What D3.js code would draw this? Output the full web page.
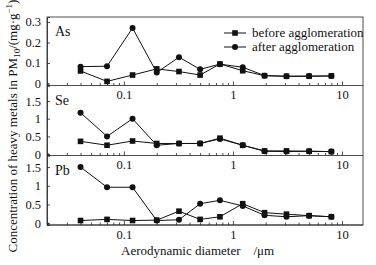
<!DOCTYPE html>
<html>
<head>
<meta charset="utf-8">
<script src="https://cdn.jsdelivr.net/npm/d3@7"></script>
<style>
  body { margin: 0; background: #fff; }
</style>
</head>
<body>
<div id="chart"></div>
<script>
// stage diameters (um)
var diameters = [0.04, 0.07, 0.12, 0.2, 0.32, 0.5, 0.76, 1.23, 1.95, 3.1, 5.0, 8.0];

var asBefore = [0.061, 0.01, 0.041, 0.071, 0.058, 0.041, 0.095, 0.062, 0.038, 0.035, 0.035, 0.037];
var asAfter = [0.082, 0.084, 0.27, 0.053, 0.128, 0.069, 0.094, 0.079, 0.038, 0.035, 0.036, 0.036];
var seBefore = [0.36, 0.25, 0.37, 0.3, 0.3, 0.3, 0.45, 0.25, 0.09, 0.09, 0.08, 0.07];
var seAfter = [1.17, 0.5, 1.0, 0.25, 0.3, 0.3, 0.43, 0.25, 0.08, 0.07, 0.08, 0.07];
var pbBefore = [0.07, 0.1, 0.07, 0.08, 0.32, 0.1, 0.17, 0.52, 0.28, 0.24, 0.2, 0.17];
var pbAfter = [1.5, 0.96, 0.96, 0.07, 0.09, 0.52, 0.61, 0.46, 0.21, 0.17, 0.2, 0.17];

var panelNames = ["As", "Se", "Pb"];
var asTicks = [0, 0.1, 0.2, 0.3];
var seTicks = [0, 0.5, 1, 1.5];
var pbTicks = [0, 0.5, 1, 1.5];
var xMajor = [0.1, 1, 10];
var xMinor = [0.02, 0.03, 0.04, 0.05, 0.06, 0.07, 0.08, 0.09,
  0.2, 0.3, 0.4, 0.5, 0.6, 0.7, 0.8, 0.9,
  2, 3, 4, 5, 6, 7, 8, 9];
var legendNames = ["before agglomeration", "after agglomeration"];

var FONT = "'Liberation Serif', 'Times New Roman', Times, 'DejaVu Serif', serif";
var w = 376, h = 265;
var left = 47, right = 363;
var tops = [17, 85.5, 155.5], bottoms = [85.5, 155.5, 225];

var svg = d3.select("#chart").append("svg")
  .attr("width", w).attr("height", h)
  .attr("font-family", FONT);

var x = d3.scaleLog().domain([0.0197, 15.6]).range([left, right]);

var panels = [
  { name: panelNames[0], before: asBefore, after: asAfter, ticks: asTicks, domain: [-0.01, 0.324], fmt: function (d) { return d === 0 ? "0" : d3.format(".1f")(d); } },
  { name: panelNames[1], before: seBefore, after: seAfter, ticks: seTicks, domain: [-0.04, 1.94], fmt: function (d) { return String(d); } },
  { name: panelNames[2], before: pbBefore, after: pbAfter, ticks: pbTicks, domain: [-0.05, 1.81], fmt: function (d) { return String(d); } }
];

panels.forEach(function (p, k) {
  var y = d3.scaleLinear().domain(p.domain).range([bottoms[k], tops[k]]);
  var g = svg.append("g");

  // y axis, ticks pointing in
  var ya = g.append("g")
    .attr("transform", "translate(" + left + ",0)")
    .call(d3.axisLeft(y).tickValues(p.ticks).tickSize(-3).tickPadding(6).tickFormat(p.fmt));
  ya.attr("font-family", FONT).attr("font-size", 12.5);
  ya.selectAll("text").attr("fill", "#111");

  // x axis: minor + major ticks
  g.append("g")
    .attr("transform", "translate(0," + bottoms[k] + ")")
    .call(d3.axisBottom(x).tickValues(xMinor).tickSize(-2.5).tickFormat(""))
    .select(".domain").remove();
  var xa = g.append("g")
    .attr("transform", "translate(0," + bottoms[k] + ")")
    .call(d3.axisBottom(x).tickValues(xMajor).tickSize(-4).tickPadding(5).tickFormat(function (d) { return String(d); }));
  xa.attr("font-family", FONT).attr("font-size", 12.5);
  xa.selectAll("text").attr("fill", "#111");
  xa.select(".domain").attr("d", "M" + left + ",0H" + right);
  g.selectAll(".tick line, .domain").attr("stroke", "#222").attr("stroke-width", 0.8);

  // panel label
  g.append("text")
    .attr("x", 55)
    .attr("y", tops[k] + 19)
    .attr("font-size", 14)
    .attr("fill", "#111")
    .text(p.name);

  var line = d3.line()
    .x(function (d, i) { return x(diameters[i]); })
    .y(function (d) { return y(d); });

  // before = squares, after = circles
  [p.before, p.after].forEach(function (vals, s) {
    g.append("path")
      .datum(vals)
      .attr("fill", "none")
      .attr("stroke", "#111")
      .attr("stroke-width", 1)
      .attr("d", line);
    if (s === 0) {
      g.selectAll(null).data(vals).enter().append("rect")
        .attr("x", function (d, i) { return x(diameters[i]) - 2.8; })
        .attr("y", function (d) { return y(d) - 2.8; })
        .attr("width", 5.6).attr("height", 5.6)
        .attr("fill", "#111");
    } else {
      g.selectAll(null).data(vals).enter().append("circle")
        .attr("cx", function (d, i) { return x(diameters[i]); })
        .attr("cy", function (d) { return y(d); })
        .attr("r", 3)
        .attr("fill", "#111");
    }
  });
});

// outer frame
svg.append("rect")
  .attr("x", left).attr("y", tops[0])
  .attr("width", right - left).attr("height", bottoms[2] - tops[0])
  .attr("fill", "none").attr("stroke", "#222").attr("stroke-width", 0.8);

// legend
legendNames.forEach(function (name, i) {
  var ly = 33 + i * 14;
  svg.append("line").attr("x1", 224).attr("x2", 246).attr("y1", ly).attr("y2", ly)
    .attr("stroke", "#111").attr("stroke-width", 1);
  if (i === 0) {
    svg.append("rect").attr("x", 235 - 2.8).attr("y", ly - 2.8).attr("width", 5.6).attr("height", 5.6).attr("fill", "#111");
  } else {
    svg.append("circle").attr("cx", 235).attr("cy", ly).attr("r", 3).attr("fill", "#111");
  }
  svg.append("text").attr("x", 252).attr("y", ly + 4).attr("font-size", 13).attr("fill", "#111").text(name);
});

// axis titles
svg.append("text")
  .attr("x", 121).attr("y", 255)
  .attr("font-size", 13)
  .attr("fill", "#111")
  .attr("xml:space", "preserve")
  .text("Aerodynamic diameter    /\u03bcm");

var yt = svg.append("text")
  .attr("transform", "translate(17,126) rotate(-90)")
  .attr("text-anchor", "middle")
  .attr("font-size", 13)
  .attr("fill", "#111");
yt.append("tspan").text("Concentration of heavy metals in PM");
yt.append("tspan").attr("dy", 3).attr("font-size", 9).text("10");
yt.append("tspan").attr("dy", -3).text("/(mg\u00b7g");
yt.append("tspan").attr("dy", -5).attr("font-size", 9).text("\u22121");
yt.append("tspan").attr("dy", 5).text(")");
</script>
</body>
</html>
